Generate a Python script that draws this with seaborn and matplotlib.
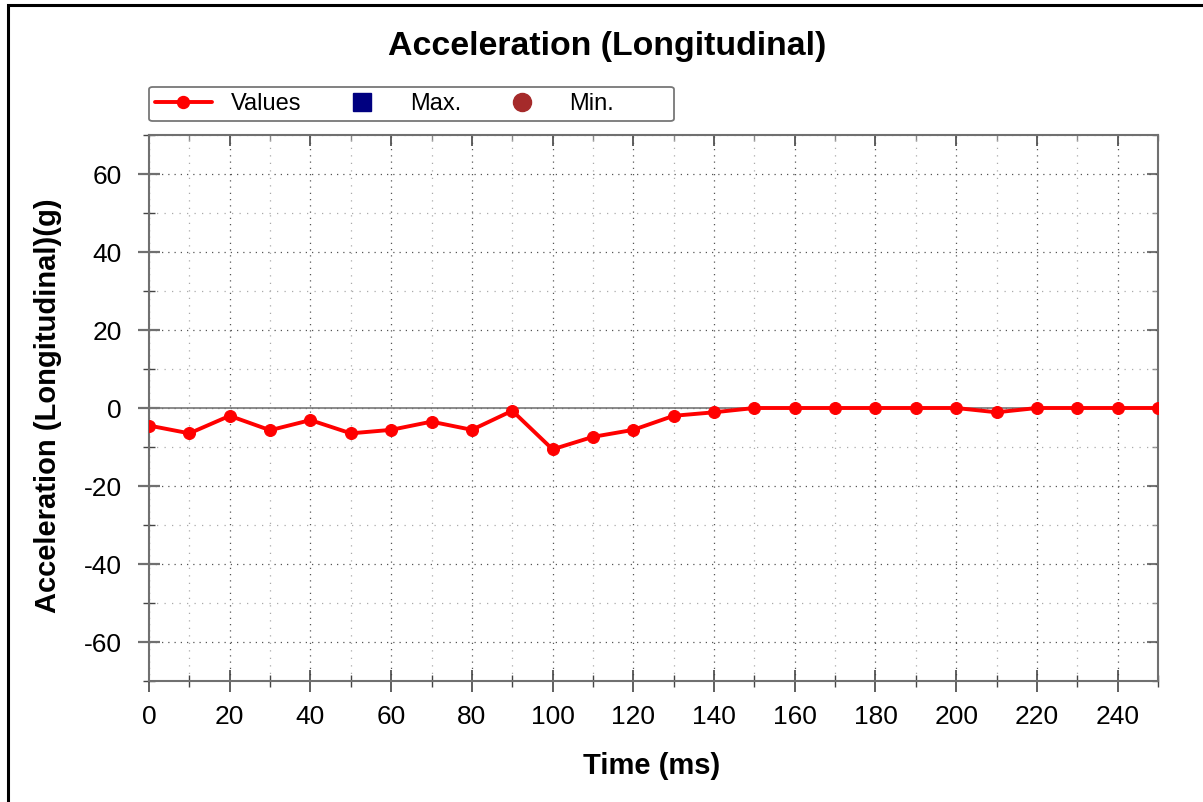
import matplotlib
matplotlib.use("Agg")
import matplotlib.pyplot as plt
from matplotlib.lines import Line2D
from matplotlib.patches import Rectangle, FancyBboxPatch
from matplotlib.ticker import MultipleLocator
import numpy as np
import pandas as pd
import seaborn as sns

# ---- data ----
time_ms = [0, 10, 20, 30, 40, 50, 60, 70, 80, 90, 100, 110, 120, 130, 140,
           150, 160, 170, 180, 190, 200, 210, 220, 230, 240, 250]
accel_g = [-4.5, -6.5, -2.0, -5.7, -3.1, -6.5, -5.6, -3.5, -5.6, -0.7, -10.6,
           -7.4, -5.6, -2.0, -1.1, 0.0, 0.0, 0.0, 0.0, 0.0, 0.0, -1.1, 0.0,
           0.0, 0.0, 0.0]
legend_labels = ["Values", "Max.", "Min."]
title_text = "Acceleration (Longitudinal)"
x_label = "Time (ms)"
y_label = "Acceleration (Longitudinal)(g)"

df = pd.DataFrame({"time": time_ms, "accel": accel_g})

sns.set_theme(style="white")
plt.rcParams["font.family"] = ["Liberation Sans", "DejaVu Sans"]
plt.rcParams["axes.unicode_minus"] = False
plt.rcParams["text.color"] = "black"
plt.rcParams["xtick.color"] = "#444444"
plt.rcParams["ytick.color"] = "#444444"
plt.rcParams["xtick.labelcolor"] = "black"
plt.rcParams["ytick.labelcolor"] = "black"

fig = plt.figure(figsize=(12.03, 8.02), dpi=100)
ax = fig.add_axes([149 / 1203, 1 - 681 / 802, (1158 - 149) / 1203, (681 - 135) / 802])

ax.set_xlim(0, 250)
ax.set_ylim(-70, 70)

# grid
ax.xaxis.set_major_locator(MultipleLocator(20))
ax.xaxis.set_minor_locator(MultipleLocator(10))
ax.yaxis.set_major_locator(MultipleLocator(20))
ax.yaxis.set_minor_locator(MultipleLocator(10))
ax.grid(which="major", color="#555555", linestyle=(0, (1, 4)), linewidth=0.9)
ax.grid(which="minor", color="#aaaaaa", linestyle=(0, (1, 5)), linewidth=0.9)
ax.set_axisbelow(True)
ax.axhline(0, color="#777777", linewidth=1.2, zorder=1.5)

sns.lineplot(data=df, x="time", y="accel", ax=ax, color="#ff0000",
             linewidth=2.8, marker="o", markersize=8.6,
             markeredgecolor="#ff0000", zorder=3, legend=False)

for s in ax.spines.values():
    s.set_color("#707070")
    s.set_linewidth(1.5)

ax.tick_params(axis="x", which="major", direction="inout", length=16,
               width=1.2, labelsize=19, pad=9, top=False, bottom=True)
ax.tick_params(axis="x", which="minor", direction="inout", length=8,
               width=1.0, top=False, bottom=True)
ax.tick_params(axis="y", which="major", direction="inout", length=16,
               width=1.6, color="#707070", labelsize=19, pad=11.5, left=True)
ax.tick_params(axis="y", which="minor", direction="inout", length=8,
               width=1.0, left=True)

# ticks on top and right (inward)
axt = ax.secondary_xaxis("top")
axt.xaxis.set_major_locator(MultipleLocator(20))
axt.xaxis.set_minor_locator(MultipleLocator(10))
axt.tick_params(which="major", direction="in", length=8, width=1.2, color="#444444",
                labeltop=False, top=True)
axt.tick_params(which="minor", direction="in", length=4, width=1.0, color="#888888", top=True)
axt.spines["top"].set_color("#707070")
axr = ax.secondary_yaxis("right")
axr.yaxis.set_major_locator(MultipleLocator(20))
axr.yaxis.set_minor_locator(MultipleLocator(10))
axr.tick_params(which="major", direction="in", length=8, width=1.5, color="#777777",
                labelright=False, right=True)
axr.tick_params(which="minor", direction="in", length=4, width=1.0, color="#888888", right=True)
axr.spines["right"].set_color("#707070")

ax.set_xlabel("")
ax.set_ylabel("")
fig.text(652 / 1203, 1 - 766 / 802, x_label, ha="center", va="center",
         fontsize=21, fontweight="bold", color="black")
fig.text(48 / 1203, 1 - 406 / 802, y_label, ha="center", va="center",
         rotation=90, fontsize=21, fontweight="bold", color="black")
fig.text(607 / 1203, 1 - 47 / 802, title_text, ha="center", va="center",
         fontsize=24.4, fontweight="bold", color="black")

handles = [
    Line2D([], [], color="#ff0000", linewidth=2.8, marker="o", markersize=8.6),
    Line2D([], [], color="#000080", linestyle="none", marker="s", markersize=13),
    Line2D([], [], color="#a52a2a", linestyle="none", marker="o", markersize=13),
]
leg = fig.legend(handles, legend_labels, ncol=3,
                 bbox_to_anchor=(155 / 1203, 1 - 104 / 802),
                 loc="center left", fontsize=17, frameon=False, handlelength=2.4,
                 handletextpad=0.8, columnspacing=1.4, borderaxespad=0, borderpad=0)

frame = FancyBboxPatch((149 / 1203, 1 - 121 / 802), (674 - 149) / 1203, 34 / 802,
                       boxstyle="round,pad=0,rounding_size=0.003",
                       transform=fig.transFigure, facecolor="white",
                       edgecolor="#777777", linewidth=1.3, zorder=0)
fig.patches.append(frame)

# outer border (left & top visible)
fig.patches.append(Rectangle((8 / 1203, -0.5), 2.0, 1.5 - 5 / 802,
                             transform=fig.transFigure, fill=False,
                             edgecolor="black", linewidth=2.2))

fig.savefig("out.png", dpi=100)
